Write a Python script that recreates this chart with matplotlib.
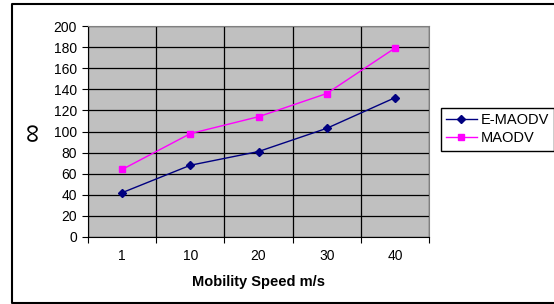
import matplotlib.pyplot as plt
from matplotlib.lines import Line2D

plt.rcParams['font.family'] = ['Liberation Sans', 'DejaVu Sans']

speeds = ['1', '10', '20', '30', '40']
e_maodv = [42, 68, 81, 103, 132]
maodv = [64, 98, 114, 136, 179]

fig = plt.figure(figsize=(5.54, 3.04), dpi=100)
ax = fig.add_axes([88 / 554, 67 / 304, 341 / 554, 211 / 304])
ax.set_facecolor('#C0C0C0')

x = range(len(speeds))
ax.plot(x, e_maodv, color='#000080', marker='D', markersize=4.5, lw=1, label='E-MAODV', zorder=3)
ax.plot(x, maodv, color='#FF00FF', marker='s', markersize=5, lw=1, label='MAODV', zorder=3)

ax.set_xlim(-0.5, len(speeds) - 0.5)
ax.set_ylim(0, 200)
ax.set_yticks(range(0, 201, 20))
# category boundaries carry the ticks and grid, labels sit in the middle
ax.set_xticks([i + 0.5 for i in range(-1, len(speeds))])
ax.set_xticklabels([])
ax.set_xticks(list(x), minor=True)
ax.set_xticklabels(speeds, minor=True)
ax.tick_params(axis='x', which='minor', length=0, pad=9, labelsize=10)
ax.tick_params(axis='x', which='major', length=4, direction='out', width=0.8)
ax.tick_params(axis='y', length=4, direction='out', width=0.8, labelsize=10, pad=4)
ax.grid(True, which='major', color='black', lw=0.9)
ax.set_axisbelow(True)
for s in ['top', 'right']:
    ax.spines[s].set_color('#808080')
ax.set_xlabel('Mobility Speed m/s', fontsize=10.5, fontweight='bold', labelpad=8)
ax.set_ylabel('\u221e', fontsize=19, rotation=90)
ax.yaxis.set_label_coords(-0.125, 0.5)

fig.legend(loc='upper left', bbox_to_anchor=(441 / 554, 1 - 108 / 304), fontsize=10.5,
           frameon=True, fancybox=False, edgecolor='black', framealpha=1,
           borderpad=0.35, handlelength=2.1, labelspacing=0.3, handletextpad=0.27,
           borderaxespad=0)

# outer chart frame (right side runs off the picture)
fig.add_artist(Line2D([1.0, 11.5 / 554, 11.5 / 554, 1.0],
                      [1 - 3.5 / 304, 1 - 3.5 / 304, 1.3 / 304, 1.3 / 304],
                      transform=fig.transFigure, color='black', lw=1.5))

fig.savefig('out.png', dpi=100)
